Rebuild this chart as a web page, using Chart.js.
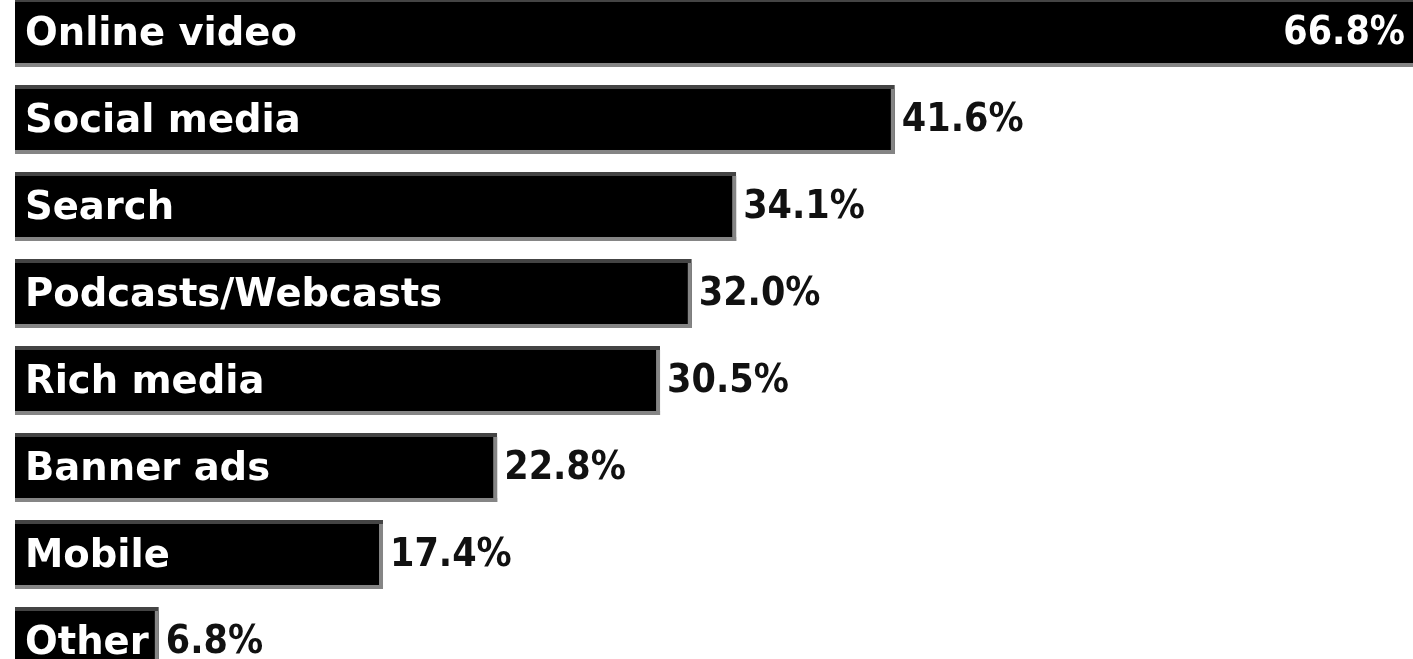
<!DOCTYPE html>
<html>
<head>
<meta charset="utf-8">
<script src="https://cdn.jsdelivr.net/npm/chart.js@4/dist/chart.umd.min.js"></script>
<style>
html,body{margin:0;padding:0;background:#fff;overflow:hidden;width:1413px;height:659px;}
#c{position:absolute;left:0;top:-11px;}
</style>
</head>
<body>
<canvas id="c" width="1413" height="696"></canvas>
<script>
const categories = ["Online video","Social media","Search","Podcasts/Webcasts","Rich media","Banner ads","Mobile","Other"];
const values = [66.8, 41.6, 34.1, 32.0, 30.5, 22.8, 17.4, 6.8];
const axisMax = 66.1;

const nameFont = 'bold 38.5px "DejaVu Sans"';
const valueFont = 'bold 39px "DejaVu Sans Condensed", "DejaVu Sans"';

const barLabels = {
  id: 'barLabels',
  afterDatasetsDraw(chart) {
    const ctx = chart.ctx;
    const area = chart.chartArea;
    const meta = chart.getDatasetMeta(0);
    ctx.save();
    ctx.textBaseline = 'middle';
    meta.data.forEach((bar, i) => {
      const top = bar.y - bar.height / 2;
      const bottom = bar.y + bar.height / 2;
      const right = Math.min(bar.x, area.right);
      // lighter bottom / right edge shading
      ctx.fillStyle = '#858585';
      ctx.fillRect(bar.base, bottom - 4, right - bar.base, 4);
      if (bar.x <= area.right) ctx.fillRect(bar.x - 4, top + 4, 4, bar.height - 4);

      // category name inside bar
      ctx.font = nameFont;
      ctx.fillStyle = '#ffffff';
      ctx.textAlign = 'left';
      ctx.fillText(categories[i], bar.base + 10, bar.y + 2);

      // value label
      ctx.font = valueFont;
      const txt = values[i].toFixed(1) + '%';
      const w = ctx.measureText(txt).width;
      if (bar.x + 10 + w > area.right) {
        ctx.fillStyle = '#ffffff';
        ctx.textAlign = 'right';
        ctx.fillText(txt, area.right - 8, bar.y + 1);
      } else {
        ctx.fillStyle = '#111111';
        ctx.textAlign = 'left';
        ctx.fillText(txt, bar.x + 7, bar.y + 1);
      }
    });
    ctx.restore();
  }
};

new Chart(document.getElementById('c'), {
  type: 'bar',
  data: {
    labels: categories,
    datasets: [{
      data: values,
      backgroundColor: '#000000',
      borderColor: '#444444',
      borderWidth: {top: 4, right: 0, bottom: 0, left: 0},
      borderSkipped: 'start',
      categoryPercentage: 1.0,
      barPercentage: 0.793
    }]
  },
  options: {
    indexAxis: 'y',
    responsive: false,
    maintainAspectRatio: false,
    animation: false,
    layout: {padding: {left: 15, right: 0, top: 0, bottom: 0}},
    plugins: {legend: {display: false}, tooltip: {enabled: false}},
    scales: {
      x: {display: false, min: 0, max: axisMax},
      y: {display: false}
    }
  },
  plugins: [barLabels]
});
</script>
</body>
</html>
